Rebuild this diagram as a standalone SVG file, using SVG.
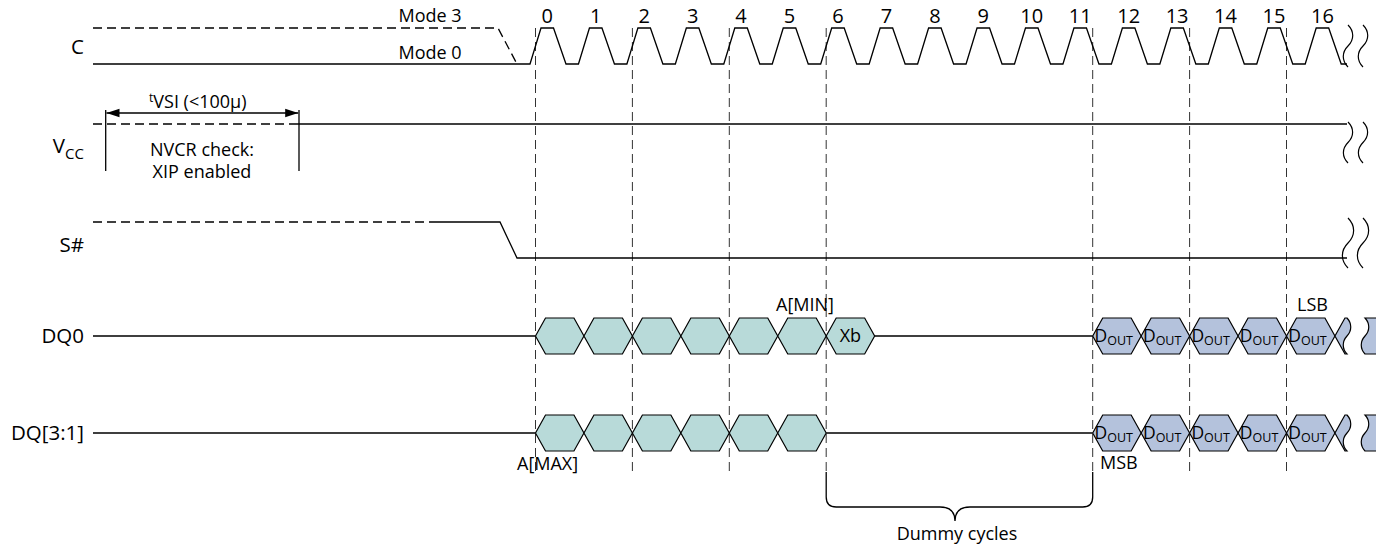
<svg xmlns="http://www.w3.org/2000/svg" width="1376" height="548" viewBox="0 0 1376 548">
<style>
text{font-family:"Open Sans","Noto Sans","Liberation Sans",sans-serif;font-size:18px;fill:#000}
.lbl{font-size:20.5px;text-anchor:end}
.num{font-size:20px;text-anchor:middle}
.mid{text-anchor:middle}
.sub{font-size:13px}
.dout{font-size:17.5px}
.dout tspan{font-size:12.5px}
.sig{fill:none;stroke:#000;stroke-width:1.3;stroke-linejoin:miter}
.dsh{fill:none;stroke:#000;stroke-width:1.3;stroke-dasharray:9,5}
.grid{fill:none;stroke:#333;stroke-width:1;stroke-dasharray:9,5}
.brk{fill:none;stroke:#000;stroke-width:1.2}
.teal{fill:#b8dad9;stroke:#000;stroke-width:1.2}
.blue{fill:#b4c2dc;stroke:#000;stroke-width:1.2}
</style>
<defs>
<polygon id="hex" points="0,0 10,-18 38.45,-18 48.45,0 38.45,18 10,18"/>
<marker id="ah" markerWidth="14" markerHeight="10" refX="13" refY="5" orient="auto-start-reverse" markerUnits="userSpaceOnUse">
<path d="M0,0.8 L13,5 L0,9.2 Z" fill="#000"/>
</marker>
</defs>

<g id="grid">
<line class="grid" x1="535.5" y1="28" x2="535.5" y2="472"/>
<line class="grid" x1="632.4" y1="28" x2="632.4" y2="472"/>
<line class="grid" x1="729.3" y1="28" x2="729.3" y2="472"/>
<line class="grid" x1="826.2" y1="28" x2="826.2" y2="472"/>
<line class="grid" x1="1092.7" y1="28" x2="1092.7" y2="472"/>
<line class="grid" x1="1189.6" y1="28" x2="1189.6" y2="472"/>
<line class="grid" x1="1286.5" y1="28" x2="1286.5" y2="472"/>
</g>

<g id="clock">
<text class="lbl" x="84" y="54">C</text>
<text class="mid" x="430" y="22">Mode 3</text>
<text class="mid" x="430" y="59">Mode 0</text>
<path class="dsh" d="M93,28 H498 L517,64"/>
<path class="sig" d="M93,64 H530 L541,28 L553.5,28 L566,64 L578.45,64 L589.45,28 L601.95,28 L614.45,64 L626.9,64 L637.9,28 L650.4,28 L662.9,64 L675.35,64 L686.35,28 L698.85,28 L711.35,64 L723.8,64 L734.8,28 L747.3,28 L759.8,64 L772.25,64 L783.25,28 L795.75,28 L808.25,64 L820.7,64 L831.7,28 L844.2,28 L856.7,64 L869.15,64 L880.15,28 L892.65,28 L905.15,64 L917.6,64 L928.6,28 L941.1,28 L953.6,64 L966.05,64 L977.05,28 L989.55,28 L1002.05,64 L1014.5,64 L1025.5,28 L1038,28 L1050.5,64 L1062.95,64 L1073.95,28 L1086.45,28 L1098.95,64 L1111.4,64 L1122.4,28 L1134.9,28 L1147.4,64 L1159.85,64 L1170.85,28 L1183.35,28 L1195.85,64 L1208.3,64 L1219.3,28 L1231.8,28 L1244.3,64 L1256.75,64 L1267.75,28 L1280.25,28 L1292.75,64 L1305.2,64 L1316.2,28 L1328.7,28 L1341.2,64 L1347,64"/>
<path class="brk" d="M1348,25 c6.3,6.3 6.3,14.7 0,21 s-6.3,14.7 0,21"/>
<path class="brk" d="M1363,25 c6.3,6.3 6.3,14.7 0,21 s-6.3,14.7 0,21"/>
<text class="num" x="547.25" y="23">0</text>
<text class="num" x="595.7" y="23">1</text>
<text class="num" x="644.15" y="23">2</text>
<text class="num" x="692.6" y="23">3</text>
<text class="num" x="741.05" y="23">4</text>
<text class="num" x="789.5" y="23">5</text>
<text class="num" x="837.95" y="23">6</text>
<text class="num" x="886.4" y="23">7</text>
<text class="num" x="934.85" y="23">8</text>
<text class="num" x="983.3" y="23">9</text>
<text class="num" x="1031.75" y="23">10</text>
<text class="num" x="1080.2" y="23">11</text>
<text class="num" x="1128.65" y="23">12</text>
<text class="num" x="1177.1" y="23">13</text>
<text class="num" x="1225.55" y="23">14</text>
<text class="num" x="1274" y="23">15</text>
<text class="num" x="1322.45" y="23">16</text>
</g>

<g id="vcc">
<text class="lbl" x="84" y="153">V<tspan font-size="15" dy="5.5">CC</tspan></text>
<path class="dsh" d="M93,124 H298"/>
<path class="sig" d="M298,124 H1347"/>
<path class="brk" d="M1348,122 c6.15,6.15 6.15,14.35 0,20.5 s-6.15,14.35 0,20.5"/>
<path class="brk" d="M1363,122 c6.15,6.15 6.15,14.35 0,20.5 s-6.15,14.35 0,20.5"/>
</g>

<g id="tvsi">
<line class="sig" x1="105.7" y1="110" x2="105.7" y2="171"/>
<line class="sig" x1="299" y1="110" x2="299" y2="171"/>
<line class="sig" x1="106.5" y1="113" x2="298.2" y2="113" marker-start="url(#ah)" marker-end="url(#ah)"/>
<text x="149" y="108"><tspan font-size="12" dy="-6">t</tspan><tspan dy="6">VSI (&lt;100µ)</tspan></text>
<text class="mid" x="202" y="156">NVCR check:</text>
<text class="mid" x="202" y="178">XIP enabled</text>
</g>

<g id="s">
<text class="lbl" x="84" y="252">S#</text>
<path class="dsh" d="M93,222 H433"/>
<path class="sig" d="M433,222 H500 L517,258 H1347"/>
<path class="brk" d="M1348,218 c7.5,7.5 7.5,17.5 0,25 s-7.5,17.5 0,25"/>
<path class="brk" d="M1363,218 c7.5,7.5 7.5,17.5 0,25 s-7.5,17.5 0,25"/>
</g>

<g id="dq0">
<text class="lbl" x="84" y="343">DQ0</text>
<path class="sig" d="M93,336 H535.5 M874.65,336 H1092.7"/>
<use href="#hex" class="teal" x="535.5" y="336"/>
<use href="#hex" class="teal" x="583.95" y="336"/>
<use href="#hex" class="teal" x="632.4" y="336"/>
<use href="#hex" class="teal" x="680.85" y="336"/>
<use href="#hex" class="teal" x="729.3" y="336"/>
<use href="#hex" class="teal" x="777.75" y="336"/>
<use href="#hex" class="teal" x="826.2" y="336"/>
<text class="mid" x="850.4" y="342" font-size="19">Xb</text>
<use href="#hex" class="blue" x="1092.7" y="336"/>
<use href="#hex" class="blue" x="1141.15" y="336"/>
<use href="#hex" class="blue" x="1189.6" y="336"/>
<use href="#hex" class="blue" x="1238.05" y="336"/>
<use href="#hex" class="blue" x="1286.5" y="336"/>
<path class="blue" d="M1334.95,336 L1344.95,318 L1347,318 c5,5.4 5,12.6 0,18 s-5,12.6 0,18 L1344.95,354 Z"/>
<path d="M1365,318 c5,5.4 5,12.6 0,18 s-5,12.6 0,18 H1376 V318 Z" fill="#b4c2dc"/>
<path class="brk" d="M1376,318 H1365 c5,5.4 5,12.6 0,18 s-5,12.6 0,18 H1376"/>
<text class="dout" x="1094.5" y="342">D<tspan dy="3">OUT</tspan></text>
<text class="dout" x="1142.95" y="342">D<tspan dy="3">OUT</tspan></text>
<text class="dout" x="1191.4" y="342">D<tspan dy="3">OUT</tspan></text>
<text class="dout" x="1239.85" y="342">D<tspan dy="3">OUT</tspan></text>
<text class="dout" x="1288.3" y="342">D<tspan dy="3">OUT</tspan></text>
<text class="mid" x="805" y="311">A[MIN]</text>
<text x="1297" y="311">LSB</text>
</g>

<g id="dq31">
<text class="lbl" x="84" y="440">DQ[3:1]</text>
<path class="sig" d="M93,433 H535.5 M826.2,433 H1092.7"/>
<use href="#hex" class="teal" x="535.5" y="433"/>
<use href="#hex" class="teal" x="583.95" y="433"/>
<use href="#hex" class="teal" x="632.4" y="433"/>
<use href="#hex" class="teal" x="680.85" y="433"/>
<use href="#hex" class="teal" x="729.3" y="433"/>
<use href="#hex" class="teal" x="777.75" y="433"/>
<use href="#hex" class="blue" x="1092.7" y="433"/>
<use href="#hex" class="blue" x="1141.15" y="433"/>
<use href="#hex" class="blue" x="1189.6" y="433"/>
<use href="#hex" class="blue" x="1238.05" y="433"/>
<use href="#hex" class="blue" x="1286.5" y="433"/>
<path class="blue" d="M1334.95,433 L1344.95,415 L1347,415 c5,5.4 5,12.6 0,18 s-5,12.6 0,18 L1344.95,451 Z"/>
<path d="M1365,415 c5,5.4 5,12.6 0,18 s-5,12.6 0,18 H1376 V415 Z" fill="#b4c2dc"/>
<path class="brk" d="M1376,415 H1365 c5,5.4 5,12.6 0,18 s-5,12.6 0,18 H1376"/>
<text class="dout" x="1094.5" y="439">D<tspan dy="3">OUT</tspan></text>
<text class="dout" x="1142.95" y="439">D<tspan dy="3">OUT</tspan></text>
<text class="dout" x="1191.4" y="439">D<tspan dy="3">OUT</tspan></text>
<text class="dout" x="1239.85" y="439">D<tspan dy="3">OUT</tspan></text>
<text class="dout" x="1288.3" y="439">D<tspan dy="3">OUT</tspan></text>
<text x="517" y="470">A[MAX]</text>
<text x="1100" y="469">MSB</text>
</g>

<g id="dummy">
<path class="sig" d="M826.2,472 V497 Q826.2,507 836.2,507 H940 C950,507 955,512 955,521 C955,512 960,507 970,507 H1082.7 Q1092.7,507 1092.7,497 V472"/>
<text class="mid" x="957" y="540">Dummy cycles</text>
</g>
</svg>
